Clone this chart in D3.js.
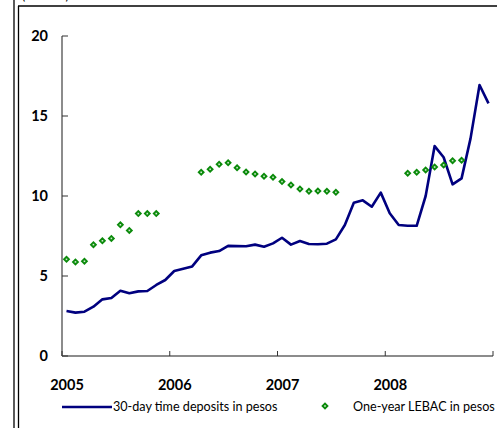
<!DOCTYPE html>
<html>
<head>
<meta charset="utf-8">
<script src="https://cdn.jsdelivr.net/npm/d3@7"></script>
<style>
  body { margin: 0; background: #fff; }
  svg { display: block; }
</style>
</head>
<body>
<svg width="497" height="428"></svg>
<script>
// monthly data, Jan 2005 - Dec 2008 (percent)
const years = [2005, 2006, 2007, 2008]
const yTicks = [0, 5, 10, 15, 20]

const deposits30d = [
  2.81, 2.71, 2.77, 3.08, 3.54, 3.63, 4.08, 3.92, 4.04, 4.06, 4.44, 4.75,
  5.31, 5.45, 5.6, 6.29, 6.46, 6.56, 6.88, 6.87, 6.86, 6.96, 6.83, 7.04,
  7.39, 6.96, 7.19, 7.0, 6.98, 7.02, 7.29, 8.19, 9.58, 9.73, 9.33, 10.21,
  8.92, 8.19, 8.14, 8.14, 10.0, 13.12, 12.42, 10.73, 11.1, 13.6, 16.94, 15.79
]

const lebac1y = [
  6.04, 5.88, 5.92, 6.96, 7.2, 7.35, 8.2, 7.85, 8.9, 8.9, 8.9, null,
  null, null, null, 11.48, 11.67, 11.98, 12.08, 11.77, 11.5, 11.38, 11.23, 11.17,
  10.9, 10.69, 10.44, 10.29, 10.31, 10.29, 10.23, null, null, null, null, null,
  null, null, 11.42, 11.48, 11.63, 11.81, 11.94, 12.21, 12.23, null, null, null
]

const seriesNames = ["30-day time deposits in pesos", "One-year LEBAC in pesos"]

const svg = d3.select("svg")

// page frame
svg.append("line").attr("x1", 14).attr("x2", 14).attr("y1", 0).attr("y2", 428)
  .attr("stroke", "#000").attr("stroke-width", 1.3)
svg.append("line").attr("x1", 18.5).attr("x2", 18.5).attr("y1", 6).attr("y2", 428)
  .attr("stroke", "#000").attr("stroke-width", 1.3)
svg.append("line").attr("x1", 18).attr("x2", 497).attr("y1", 6).attr("y2", 6)
  .attr("stroke", "#000").attr("stroke-width", 1.6)
svg.append("text").attr("x", 22).attr("y", -0.5)
  .attr("font-family", "Lato, sans-serif").attr("font-size", 12)
  .attr("fill", "#000")
  .text("(Percent)")

const x = d3.scaleLinear().domain([2005, 2009]).range([62, 493])
const y = d3.scaleLinear().domain([0, 20]).range([356, 36])

const monthX = (i) => x(2005 + (i + 0.5) / 12)

// axes
const g = svg.append("g")
g.append("line").attr("x1", x(2005)).attr("x2", x(2005))
  .attr("y1", y(20)).attr("y2", y(0))
  .attr("stroke", "#666").attr("stroke-width", 1.5)
g.append("line").attr("x1", x(2005)).attr("x2", x(2009))
  .attr("y1", y(0)).attr("y2", y(0))
  .attr("stroke", "#666").attr("stroke-width", 1.5)

g.selectAll(".ytick").data(yTicks).join("line")
  .attr("x1", x(2005)).attr("x2", x(2005) + 6)
  .attr("y1", (d) => y(d)).attr("y2", (d) => y(d))
  .attr("stroke", "#333").attr("stroke-width", 1)

g.selectAll(".ylab").data(yTicks).join("text")
  .attr("x", 48).attr("y", (d) => y(d))
  .attr("dy", "0.36em").attr("text-anchor", "end")
  .attr("font-family", "Lato, sans-serif").attr("font-weight", "bold")
  .attr("font-size", 14.5).text((d) => d)

g.selectAll(".xtick").data(years.concat([2009])).join("line")
  .attr("x1", (d) => x(d)).attr("x2", (d) => x(d))
  .attr("y1", y(0)).attr("y2", y(0) - 5)
  .attr("stroke", "#333").attr("stroke-width", 1)

g.selectAll(".xlab").data(years).join("text")
  .attr("x", (d) => x(d) + 5).attr("y", 390)
  .attr("text-anchor", "middle")
  .attr("font-family", "Lato, sans-serif").attr("font-weight", "bold")
  .attr("font-size", 14.5).text((d) => d)

// series
const line = d3.line()
  .x((d, i) => monthX(i))
  .y((d) => y(d))

g.append("path").datum(deposits30d)
  .attr("fill", "none").attr("stroke", "#00007f")
  .attr("stroke-width", 2.6).attr("stroke-linejoin", "round")
  .attr("d", line)

const diamond = d3.symbol().type(d3.symbolDiamond2).size(36)

function marker(sel) {
  sel.append("path").attr("d", diamond).attr("fill", "#0a8a0a")
  sel.append("rect").attr("x", -0.8).attr("y", -0.8)
    .attr("width", 1.6).attr("height", 1.6).attr("fill", "#cfe8cf")
}

const pts = lebac1y.map((v, i) => ({ i, v })).filter((d) => d.v != null)
g.selectAll(".pt").data(pts).join("g")
  .attr("transform", (d) => `translate(${monthX(d.i)},${y(d.v)})`)
  .call(marker)

// legend
const leg = svg.append("g").attr("font-family", "Lato, sans-serif").attr("font-size", 12.6)
leg.append("line").attr("x1", 62).attr("x2", 112).attr("y1", 407).attr("y2", 407)
  .attr("stroke", "#00007f").attr("stroke-width", 2.6)
leg.append("text").attr("x", 113).attr("y", 411).text(seriesNames[0])
leg.append("g").attr("transform", "translate(325,406)").call(marker)
leg.append("text").attr("x", 353).attr("y", 411).text(seriesNames[1])
</script>
</body>
</html>
